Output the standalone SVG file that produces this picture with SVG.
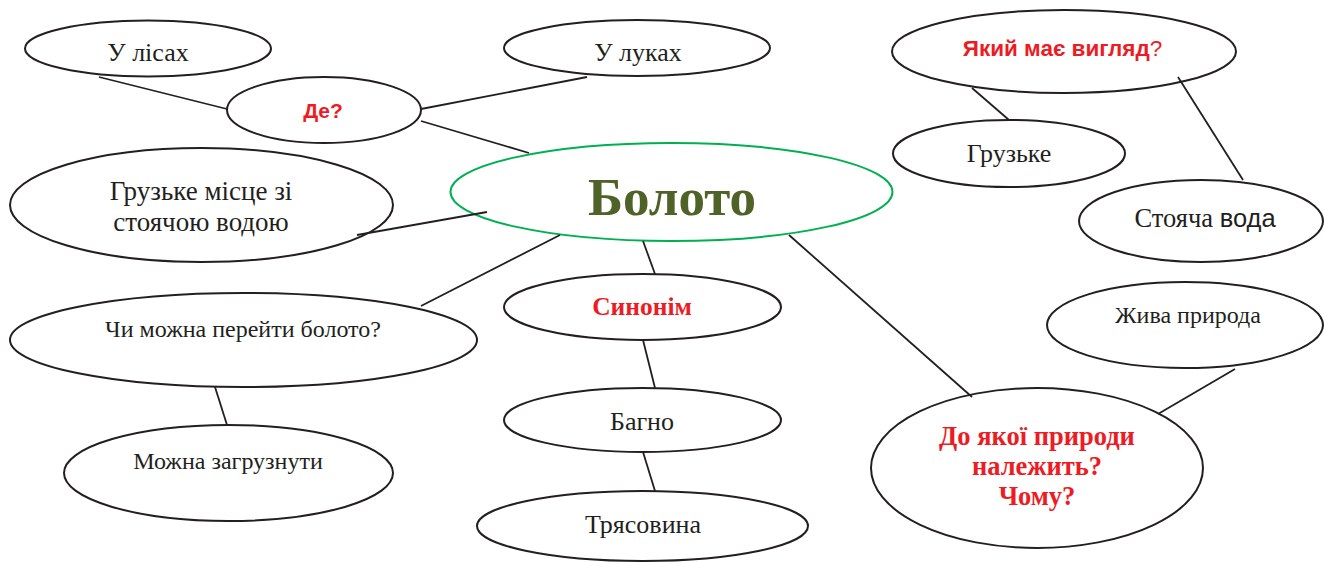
<svg xmlns="http://www.w3.org/2000/svg" width="1324" height="562" viewBox="0 0 1324 562">
<style>
.n{fill:#fff;stroke:#231f20;stroke-width:2}
.c{fill:none;stroke:#231f20;stroke-width:1.8}
.t{font-family:"Liberation Serif","Times New Roman",serif;fill:#231f20;text-anchor:middle}
.q{font-family:"Liberation Sans",Arial,sans-serif;font-weight:bold;fill:#ed1c24;text-anchor:middle}
.rb{font-family:"Liberation Serif","Times New Roman",serif;font-weight:bold;fill:#ed1c24;text-anchor:middle}
</style>
<rect width="1324" height="562" fill="#fff"/>
<g id="u-lisakh">
<ellipse class="n" cx="148" cy="48.5" rx="123" ry="28"/>
<text class="t" x="148" y="61" font-size="26">У лісах</text>
</g>
<g id="de">
<ellipse class="n" cx="324" cy="110" rx="97" ry="33"/>
<text class="q" x="323" y="118" font-size="21">Де?</text>
</g>
<g id="u-lukakh">
<ellipse class="n" cx="637" cy="48" rx="133" ry="28"/>
<text class="t" x="638" y="61" font-size="26">У луках</text>
</g>
<g id="boloto">
<ellipse cx="671.5" cy="192" rx="221" ry="49" fill="#fff" stroke="#00b050" stroke-width="2"/>
<text x="672" y="215" font-size="53" font-weight="bold" font-family="'Liberation Serif','Times New Roman',serif" fill="#4f6228" text-anchor="middle">Болото</text>
</g>
<g id="hruzke-mistse">
<ellipse class="n" cx="201.5" cy="205" rx="191.5" ry="57"/>
<text class="t" font-size="27"><tspan x="201" y="200">Грузьке місце зі</tspan><tspan x="201" y="231">стоячою водою</tspan></text>
</g>
<g id="chy-mozhna">
<ellipse class="n" cx="243.5" cy="340" rx="233.5" ry="47"/>
<text class="t" x="243" y="337" font-size="24">Чи можна перейти болото?</text>
</g>
<g id="mozhna-zahruznuty">
<ellipse class="n" cx="228.5" cy="473" rx="164.5" ry="48"/>
<text class="t" x="228" y="469" font-size="24">Можна загрузнути</text>
</g>
<g id="synonim">
<ellipse class="n" cx="642.5" cy="307" rx="138.5" ry="33"/>
<text class="rb" x="642" y="315" font-size="25.5">Синонім</text>
</g>
<g id="bahno">
<ellipse class="n" cx="642.5" cy="420" rx="138.5" ry="32"/>
<text class="t" x="642" y="430" font-size="26">Багно</text>
</g>
<g id="triasovyna">
<ellipse class="n" cx="642.5" cy="526" rx="165.5" ry="35"/>
<text class="t" x="643" y="533" font-size="26">Трясовина</text>
</g>
<g id="yakyi-vyhliad">
<ellipse class="n" cx="1064" cy="51.5" rx="172" ry="41.5"/>
<text class="q" x="1062.5" y="56" font-size="22.5">Який має вигляд<tspan font-weight="normal">?</tspan></text>
</g>
<g id="hruzke">
<ellipse class="n" cx="1009" cy="153.5" rx="116" ry="33.5"/>
<text class="t" x="1009" y="162" font-size="26">Грузьке</text>
</g>
<g id="stoiacha-voda">
<ellipse class="n" cx="1201" cy="221" rx="122" ry="41"/>
<text class="t" x="1205" y="227" font-size="26.5">Стояча <tspan font-family="'Liberation Sans',Arial,sans-serif" font-size="25.5">вода</tspan></text>
</g>
<g id="zhyva-pryroda">
<ellipse class="n" cx="1185" cy="325" rx="138" ry="43"/>
<text class="t" x="1188" y="323" font-size="24">Жива природа</text>
</g>
<g id="do-yakoi">
<ellipse class="n" cx="1037" cy="468" rx="166" ry="80"/>
<text class="rb" font-size="26.5"><tspan x="1037" y="445">До якої природи</tspan><tspan x="1037" y="475">належить?</tspan><tspan x="1037" y="505">Чому?</tspan></text>
</g>
<g id="connectors">
<line class="c" x1="99" y1="77" x2="227" y2="109"/>
<line class="c" x1="421" y1="109" x2="587" y2="77"/>
<line class="c" x1="421" y1="121" x2="529" y2="153"/>
<line class="c" x1="357" y1="235" x2="487" y2="212"/>
<line class="c" x1="421" y1="306" x2="560" y2="235"/>
<line class="c" x1="215" y1="387" x2="227" y2="425"/>
<line class="c" x1="643" y1="241" x2="655" y2="274"/>
<line class="c" x1="643" y1="340" x2="655" y2="388"/>
<line class="c" x1="643" y1="452" x2="655" y2="491"/>
<line class="c" x1="789" y1="235" x2="972" y2="397"/>
<line class="c" x1="972" y1="88" x2="1009" y2="120"/>
<line class="c" x1="1178" y1="77" x2="1243" y2="180"/>
<line class="c" x1="1235" y1="369" x2="1158" y2="414"/>
</g>
</svg>
